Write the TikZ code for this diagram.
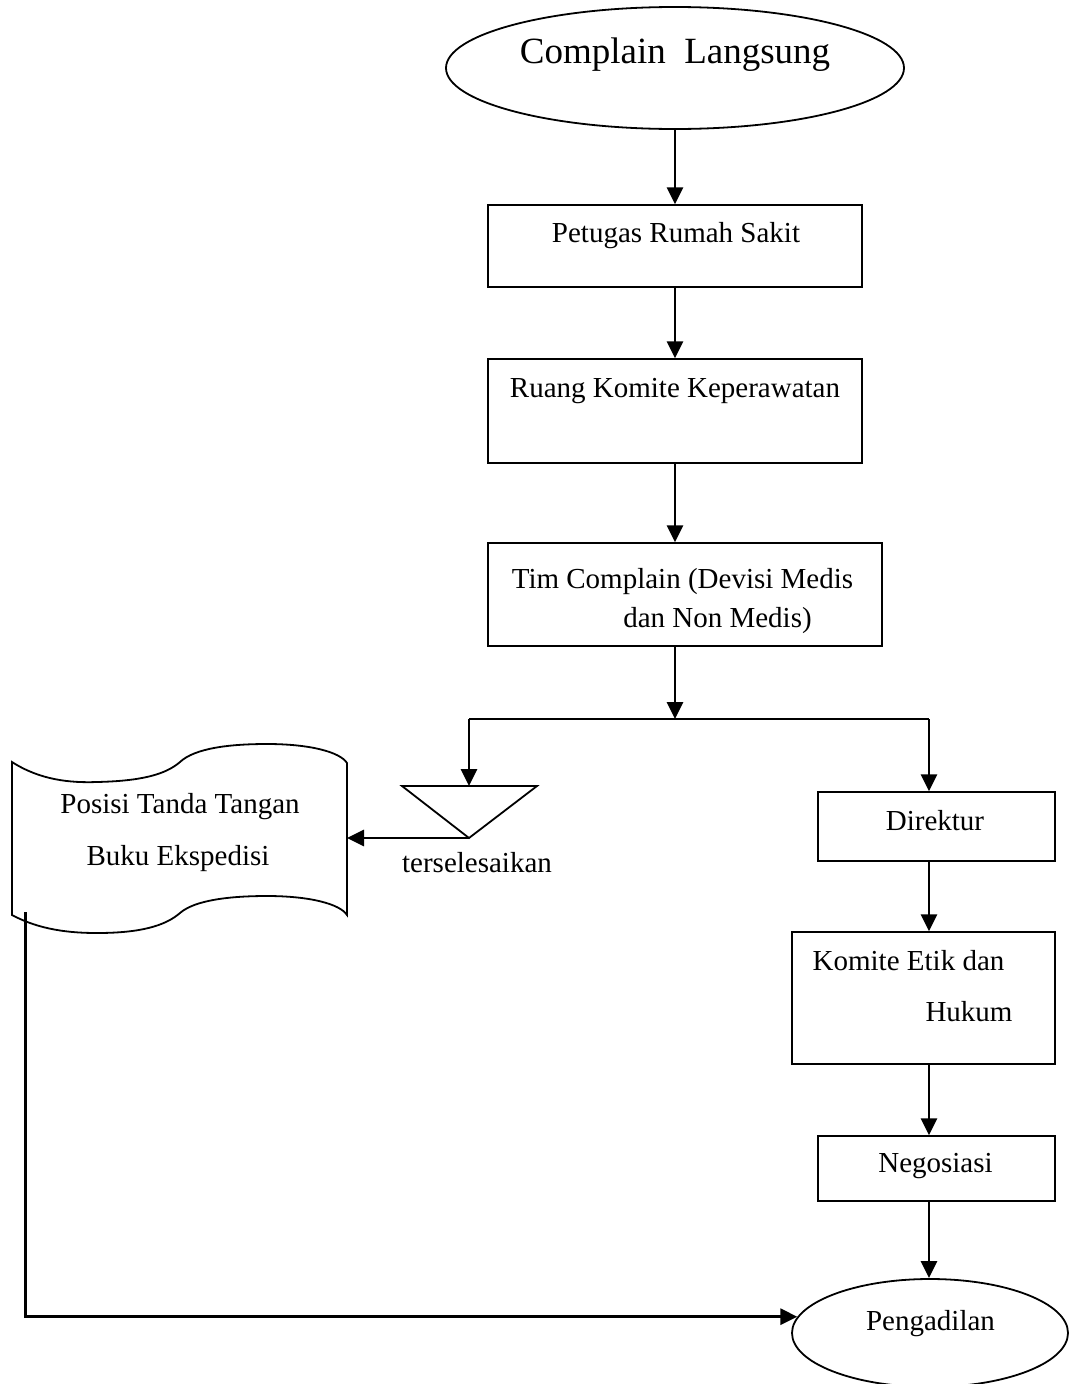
\documentclass[tikz,border=0pt]{standalone}
\usepackage{fontspec}
\setmainfont{Liberation Serif}
\usetikzlibrary{arrows.meta,shapes.geometric}
\begin{document}
\begin{tikzpicture}[x=1pt,y=-1pt,
  box/.style={draw,line width=1.5pt,inner sep=0pt},
  oval/.style={draw,ellipse,line width=1.8pt,inner sep=0pt},
  txt/.style={inner sep=0pt,anchor=base,font=\fontsize{29pt}{35pt}\selectfont},
  bigtxt/.style={inner sep=0pt,anchor=base,font=\fontsize{37pt}{44pt}\selectfont},
  arrow/.style={line width=2.8pt,-{Triangle[length=17pt,width=16pt]}},
  plain/.style={line width=2pt}]
\useasboundingbox (0,0) rectangle (1069,1384);

% shapes
\node[oval,minimum width=458pt,minimum height=122pt] (start) at (675,68) {};
\node[bigtxt] (tstart) at (675,63) {Complain~~Langsung};

\node[box,minimum width=374pt,minimum height=82pt] (b1) at (675,246) {};
\node[txt] (t1) at (676,242) {Petugas Rumah Sakit};

\node[box,minimum width=374pt,minimum height=104pt] (b2) at (675,411) {};
\node[txt] (t2) at (675,397) {Ruang Komite Keperawatan};

\node[box,minimum width=394pt,minimum height=103pt] (b3) at (685,594.5) {};
\node[txt] (t3a) at (682.5,588) {Tim Complain (Devisi Medis};
\node[txt] (t3b) at (717.5,627) {dan Non Medis)};

\node[box,minimum width=237pt,minimum height=69pt] (dir) at (936.5,826.5) {};
\node[txt] (tdir) at (935,830) {Direktur};

\node[box,minimum width=263pt,minimum height=132pt] (kom) at (923.5,998) {};
\node[txt] (tkoma) at (908.5,970) {Komite Etik dan};
\node[txt] (tkomb) at (969,1021) {Hukum};

\node[box,minimum width=237pt,minimum height=65pt] (neg) at (936.5,1168.5) {};
\node[txt] (tneg) at (935.5,1172) {Negosiasi};

\node[oval,minimum width=276pt,minimum height=108pt] (pen) at (930,1333) {};
\node[txt] (tpen) at (930.5,1330) {Pengadilan};

% triangle (off-page connector)
\coordinate (triTL) at (402,786);
\coordinate (triTR) at (537,786);
\coordinate (triB) at (469,838);
\coordinate (tritop) at (469,786);
\draw[line width=1.8pt,line join=miter] (triTL) -- (triTR) -- (triB) -- cycle;
\node[txt] (tsel) at (477,872) {terselesaikan};

% document shape
\draw[line width=1.8pt]
  (12,762) .. controls (40,780) and (70,783) .. (97,782)
  .. controls (140,781) and (165,775) .. (180,762)
  .. controls (195,748) and (230,744) .. (267,744)
  .. controls (310,744) and (340,752) .. (347,763)
  -- (347,915)
  .. controls (340,904) and (310,896) .. (267,896)
  .. controls (230,896) and (195,900) .. (180,913)
  .. controls (165,926) and (140,933) .. (97,933)
  .. controls (70,933) and (40,930) .. (12,915) -- cycle;
\coordinate (docR) at (347,838);
\coordinate (docfoot) at (25,912);
\node[txt] (tdoca) at (180,813) {Posisi Tanda Tangan};
\node[txt] (tdocb) at (178,865) {Buku Ekspedisi};

% connectors
\coordinate (junc) at (675,719);
\coordinate (jl) at (469,719);
\coordinate (jr) at (929,719);

\draw[arrow] (start.south) -- (b1.north);
\draw[arrow] (b1.south) -- (b2.north);
\draw[arrow] (b2.south) -- (b2.south |- b3.north);
\draw[arrow] (b2.south |- b3.south) -- (junc);
\draw[plain] (jl) -- (jr);
\draw[arrow] (jl) -- (tritop);
\draw[arrow] (jr) -- (jr |- dir.north);
\draw[arrow] (triB) -- (docR);
\draw[arrow] (jr |- dir.south) -- (jr |- kom.north);
\draw[arrow] (jr |- kom.south) -- (jr |- neg.north);
\draw[arrow] (jr |- neg.south) -- (pen.north -| jr);
\draw[arrow,line width=3pt] (docfoot) |- (pen.173);
\end{tikzpicture}
\end{document}
